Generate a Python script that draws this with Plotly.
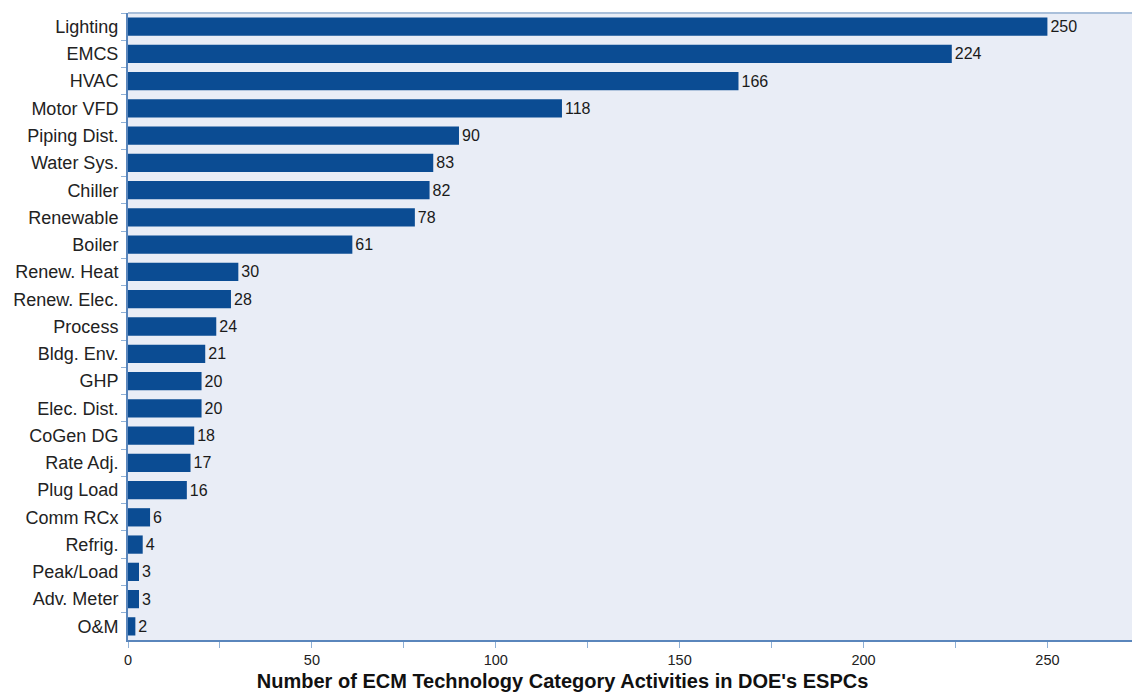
import plotly.graph_objects as go

# ECM technology categories and number of activities
categories = [
    "Lighting", "EMCS", "HVAC", "Motor VFD", "Piping Dist.", "Water Sys.",
    "Chiller", "Renewable", "Boiler", "Renew. Heat", "Renew. Elec.", "Process",
    "Bldg. Env.", "GHP", "Elec. Dist.", "CoGen DG", "Rate Adj.", "Plug Load",
    "Comm RCx", "Refrig.", "Peak/Load", "Adv. Meter", "O&M",
]
activities = [250, 224, 166, 118, 90, 83, 82, 78, 61, 30, 28, 24, 21, 20, 20,
              18, 17, 16, 6, 4, 3, 3, 2]

x_tick_vals = [0, 50, 100, 150, 200, 250]
x_title = "Number of ECM Technology Category Activities in DOE's ESPCs"

FONT = "Liberation Sans, Arial, Helvetica, sans-serif"
BAR = "#0B4C93"
AXIS = "#5A86BC"

fig = go.Figure(
    go.Bar(
        x=activities,
        y=categories,
        orientation="h",
        marker=dict(color=BAR, line=dict(width=0)),
        text=[str(v) for v in activities],
        textposition="outside",
        textfont=dict(family=FONT, size=16, color="#1a1a1a"),
        cliponaxis=False,
        hoverinfo="x+y",
    )
)

fig.update_layout(
    width=1132,
    height=693,
    margin=dict(l=128, r=0, t=13, b=53),
    paper_bgcolor="white",
    plot_bgcolor="#E9EDF6",
    bargap=0.33,
    showlegend=False,
    font=dict(family=FONT, color="#1a1a1a"),
    title=dict(
        text="<b>" + x_title + "</b>",
        font=dict(family=FONT, size=20, color="#111111"),
        x=0.497,
        xref="container",
        xanchor="center",
        y=0.017,
        yref="container",
        yanchor="middle",
    ),
    shapes=[
        dict(type="line", xref="paper", yref="paper", x0=0, x1=1, y0=1, y1=1,
             line=dict(color="#A9BFDA", width=2)),
    ],
)

fig.update_xaxes(
    range=[0, 273],
    tickvals=x_tick_vals,
    ticks="outside",
    ticklen=6,
    tickcolor="#8FB0D6",
    tickwidth=1,
    minor=dict(dtick=25, tick0=0, ticks="outside", ticklen=6,
               tickcolor="#8FB0D6", tickwidth=1),
    tickfont=dict(family=FONT, size=14.5, color="#222222"),
    showgrid=False,
    zeroline=False,
    showline=True,
    linecolor=AXIS,
    linewidth=2,
)

fig.update_yaxes(
    autorange="reversed",
    ticks="outside",
    tickson="boundaries",
    ticklen=5,
    tickcolor="#8FB0D6",
    tickwidth=1,
    tickfont=dict(family=FONT, size=18, color="#222222"),
    ticklabelstandoff=4,
    showgrid=False,
    showline=True,
    linecolor=AXIS,
    linewidth=2,
)

fig.write_html("out.html")
